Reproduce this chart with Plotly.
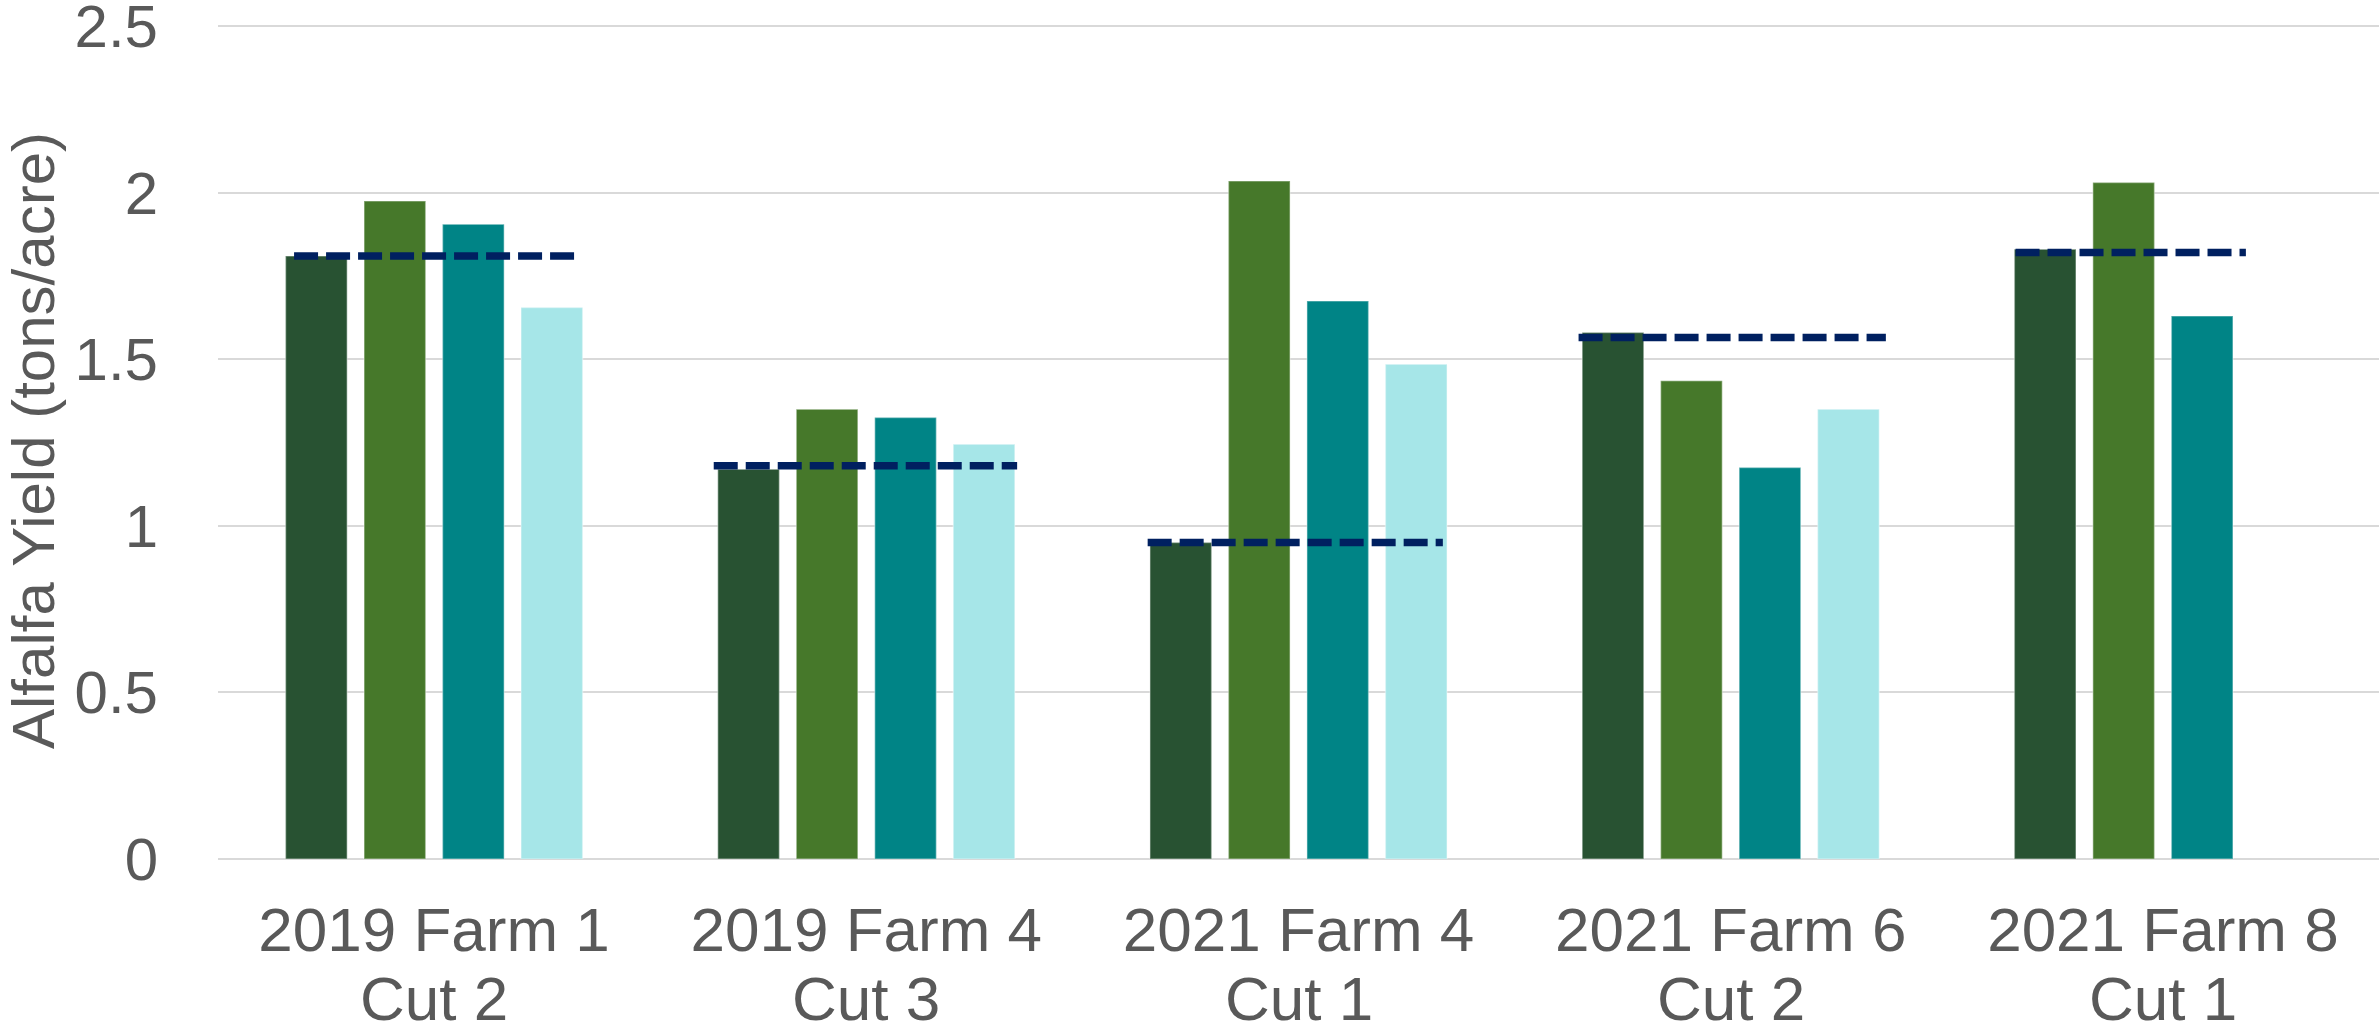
import plotly.graph_objects as go

# Field trial categories: site label and cutting number
sites = ["2019 Farm 1", "2019 Farm 4", "2021 Farm 4", "2021 Farm 6", "2021 Farm 8"]
cuts = ["Cut 2", "Cut 3", "Cut 1", "Cut 2", "Cut 1"]

# Alfalfa yield per treatment (tons/acre)
treatment_1 = [1.81, 1.17, 0.95, 1.58, 1.83]
treatment_2 = [1.975, 1.35, 2.035, 1.435, 2.03]
treatment_3 = [1.905, 1.325, 1.675, 1.175, 1.63]
treatment_4 = [1.655, 1.245, 1.485, 1.35, None]

# Reference yield drawn as a dashed line across each group
reference_yield = [1.81, 1.18, 0.95, 1.565, 1.82]

# Y axis ticks
y_ticks = [0, 0.5, 1, 1.5, 2, 2.5]
y_tick_text = ["0", "0.5", "1", "1.5", "2", "2.5"]

# Horizontal reach of each reference line, in category units around the group centre
ref_reach = [(-0.324, 0.324), (-0.353, 0.349), (-0.349, 0.334), (-0.352, 0.359), (-0.341, 0.192)]

colors = ["#285232", "#46782A", "#008486", "#A6E6E8"]
series = [treatment_1, treatment_2, treatment_3, treatment_4]
names = ["Treatment 1", "Treatment 2", "Treatment 3", "Treatment 4"]

TEXT = "#595959"
GRID = "#D9D9D9"
FONT = "Liberation Sans, Arial, sans-serif"

x_pos = list(range(len(sites)))

fig = go.Figure()
for vals, col, nm in zip(series, colors, names):
    fig.add_trace(go.Bar(
        x=x_pos, y=vals, name=nm,
        marker=dict(color=col, line=dict(color="rgba(255,255,255,0.35)", width=1.5)),
    ))

ref_x, ref_y = [], []
for i, (v, (lo, hi)) in enumerate(zip(reference_yield, ref_reach)):
    ref_x += [i + lo, i + hi, None]
    ref_y += [v, v, None]
fig.add_trace(go.Scatter(
    x=ref_x, y=ref_y, mode="lines", name="Reference",
    line=dict(color="#002060", width=7.5, dash="24px,8px"),
    connectgaps=False,
))

# Second line of each category label (cutting number)
for i, c in enumerate(cuts):
    fig.add_annotation(
        x=i, y=0, xref="x", yref="y", text=c, showarrow=False,
        yanchor="middle", yshift=-139,
        font=dict(size=62, color=TEXT, family=FONT),
    )

fig.update_layout(
    width=2379, height=1034,
    margin=dict(l=218, r=0, t=22, b=175, autoexpand=False),
    paper_bgcolor="white", plot_bgcolor="white",
    barmode="group", bargap=0.2736, bargroupgap=0.215,
    showlegend=False,
    font=dict(family=FONT, color=TEXT, size=60),
)
fig.update_xaxes(
    range=[-0.5, len(sites) - 0.5],
    tickvals=x_pos, ticktext=sites,
    tickfont=dict(size=62, color=TEXT, family=FONT),
    ticks="outside", ticklen=17, tickcolor="rgba(0,0,0,0)",
    showgrid=False, zeroline=False, showline=False, automargin=False,
)
fig.update_yaxes(
    range=[0, 2.512], tickvals=y_ticks, ticktext=y_tick_text,
    tickfont=dict(size=60, color=TEXT, family=FONT),
    ticklabeloverflow="allow",
    ticks="outside", ticklen=47, tickcolor="rgba(0,0,0,0)",
    showgrid=True, gridcolor=GRID, gridwidth=2,
    zeroline=True, zerolinecolor=GRID, zerolinewidth=2,
    showline=False, automargin=False,
    title=dict(text="Alfalfa Yield (tons/acre)", font=dict(size=60, color=TEXT, family=FONT), standoff=10),
)

fig.write_html("out.html")
